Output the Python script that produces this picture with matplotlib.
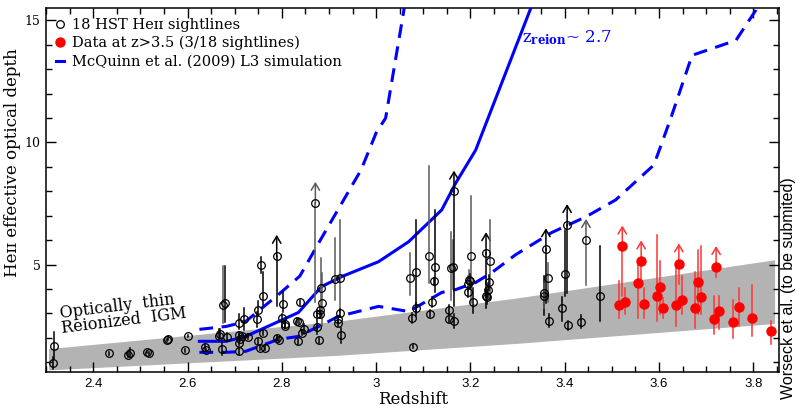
import matplotlib
matplotlib.use("Agg")
import matplotlib.pyplot as plt
from matplotlib.lines import Line2D
from matplotlib.ticker import MultipleLocator

plt.rcParams['mathtext.fontset'] = 'dejavuserif'

# ---------------- data ----------------
# grey "optically thin reionized IGM" band
band_z = [2.305, 2.92, 3.30, 3.845]
band_lo = [0.69, 1.29, 1.78, 2.59]
band_hi = [1.56, 2.69, 3.64, 5.20]

# McQuinn et al. (2009) L3 simulation
sim_med_z = [2.625, 2.682, 2.723, 2.793, 2.835, 2.884, 2.927, 3.005, 3.069, 3.139, 3.169, 3.211, 3.338]
sim_med_t = [1.86, 1.86, 2.06, 2.67, 3.04, 4.10, 4.51, 5.12, 5.94, 7.24, 8.35, 9.69, 16.0]
sim_up_z = [2.625, 2.682, 2.723, 2.793, 2.838, 2.882, 2.925, 2.968, 3.000, 3.020, 3.058, 3.063]
sim_up_t = [2.35, 2.47, 2.67, 3.78, 4.53, 6.02, 7.45, 8.88, 10.4, 11.0, 15.33, 16.0]
sim_lo_z = [2.625, 2.682, 2.723, 2.793, 2.835, 2.878, 2.920, 3.005, 3.069, 3.139, 3.169, 3.211,
            3.245, 3.296, 3.372, 3.445, 3.508, 3.589, 3.625, 3.670, 3.763, 3.805, 3.815]
sim_lo_t = [1.41, 1.41, 1.45, 1.94, 2.06, 2.47, 2.88, 3.29, 3.08, 3.86, 3.98, 4.27,
            4.67, 5.41, 6.31, 6.96, 7.65, 9.08, 11.0, 13.57, 14.18, 15.41, 16.0]

# HST HeII sightlines (open circles)
hst_z = [2.315, 2.317, 2.434, 2.474, 2.478, 2.513, 2.519, 2.556, 2.559, 2.595,
         2.600, 2.636, 2.639, 2.667, 2.669, 2.672, 2.675, 2.680, 2.683, 2.708,
         2.708, 2.712, 2.715, 2.710, 2.710, 2.720, 2.728, 2.747, 2.749, 2.756,
         2.759, 2.750, 2.754, 2.764, 2.759, 2.789, 2.789, 2.793, 2.800, 2.803,
         2.807, 2.806, 2.832, 2.836, 2.839, 2.846, 2.842, 2.835, 2.871, 2.878,
         2.874, 2.874, 2.881, 2.881, 2.885, 2.883, 2.912, 2.924, 2.924, 2.920,
         2.919, 2.926, 3.075, 3.079, 3.084, 3.072, 3.084, 3.113, 3.125, 3.122,
         3.118, 3.115, 3.158, 3.162, 3.165, 3.154, 3.155, 3.164, 3.202, 3.197,
         3.200, 3.195, 3.194, 3.205, 3.233, 3.242, 3.240, 3.237, 3.235, 3.233,
         3.360, 3.364, 3.357, 3.355, 3.367, 3.405, 3.401, 3.394, 3.407, 3.434,
         3.445, 3.475]
hst_t = [0.96, 1.67, 1.37, 1.30, 1.40, 1.42, 1.37, 1.91, 1.97, 1.49,
         2.07, 1.64, 1.50, 2.07, 2.18, 1.55, 3.33, 3.44, 2.04, 2.62,
         2.10, 1.97, 2.07, 1.80, 1.46, 2.78, 2.04, 2.76, 3.16, 5.00,
         3.71, 1.87, 1.60, 1.60, 2.21, 5.37, 2.00, 1.93, 2.82, 3.37,
         2.55, 2.49, 2.69, 2.67, 3.46, 2.35, 2.21, 1.87, 7.54, 1.91,
         2.46, 2.99, 3.16, 2.96, 3.41, 4.05, 4.43, 4.46, 3.03, 2.76,
         2.59, 2.10, 2.82, 1.64, 3.23, 4.46, 4.71, 5.34, 4.89, 4.32,
         3.48, 2.99, 4.87, 4.91, 8.00, 3.14, 2.76, 2.69, 5.34, 4.39,
         4.32, 4.22, 3.89, 3.48, 5.48, 5.14, 4.28, 3.95, 3.68, 3.71,
         5.64, 4.46, 3.82, 3.71, 2.71, 6.63, 4.63, 3.23, 2.51, 2.67,
         6.02, 3.71]
hst_elo = [0.25, 0.55, 0.05, 0.10, 0.20, 0.05, 0.05, 0.05, 0.05, 0.05,
           0.05, 0.10, 0.05, 0.20, 0.20, 0.25, 0.70, 0.80, 0.15, 0.25,
           0.15, 0.10, 0.10, 0.10, 0.15, 0.45, 0.10, 0.30, 0.25, 0.33,
           0.35, 0.10, 0.10, 0.10, 0.10, 2.07, 0.10, 0.10, 0.15, 0.30,
           0.15, 0.10, 0.10, 0.10, 0.10, 0.20, 0.10, 0.10, 4.09, 0.10,
           0.30, 0.15, 0.15, 0.15, 0.94, 1.00, 0.86, 1.42, 0.15, 0.15,
           0.10, 0.30, 0.20, 0.05, 0.20, 0.72, 1.82, 1.08, 1.03, 0.15,
           0.20, 0.15, 1.30, 0.90, 4.70, 0.20, 0.10, 0.30, 1.90, 0.40,
           0.30, 0.30, 0.20, 0.45, 1.80, 1.57, 0.30, 0.30, 0.30, 0.50,
           2.20, 1.00, 0.90, 0.50, 0.25, 2.80, 0.90, 0.55, 0.20, 0.25,
           1.84, 1.02]
hst_ehi = [0.25, 0.57, 0.05, 0.10, 0.20, 0.05, 0.05, 0.05, 0.05, 0.05,
           0.05, 0.10, 0.05, 0.30, 0.20, 0.25, 1.60, 1.50, 0.15, 0.35,
           0.15, 0.10, 0.10, 0.10, 0.15, 0.45, 0.10, 0.30, 0.35, 0.30,
           1.00, 0.10, 0.10, 0.10, 0.10, 0.00, 0.10, 0.10, 0.15, 0.50,
           0.15, 0.10, 0.10, 0.10, 0.10, 0.20, 0.10, 0.10, 0.00, 0.10,
           0.30, 0.15, 0.15, 0.15, 1.26, 1.24, 1.67, 2.38, 0.15, 0.15,
           0.10, 0.30, 0.20, 0.05, 0.20, 1.03, 2.13, 3.70, 2.35, 0.15,
           0.20, 0.15, 1.47, 1.10, 0.00, 0.20, 0.10, 0.30, 2.45, 0.40,
           0.30, 0.30, 0.20, 0.55, 0.00, 1.70, 0.30, 0.30, 0.30, 0.30,
           0.00, 0.60, 0.70, 0.50, 0.25, 0.00, 1.80, 0.45, 0.20, 0.25,
           0.00, 2.04]
hst_lim = [0, 0, 0, 0, 0, 0, 0, 0, 0, 0,
           0, 0, 0, 0, 0, 0, 0, 0, 0, 0,
           0, 0, 0, 0, 0, 0, 0, 0, 0, 0,
           0, 0, 0, 0, 0, 1, 0, 0, 0, 0,
           0, 0, 0, 0, 0, 0, 0, 0, 1, 0,
           0, 0, 0, 0, 0, 0, 0, 0, 0, 0,
           0, 0, 0, 0, 0, 0, 0, 0, 0, 0,
           0, 0, 0, 0, 1, 0, 0, 0, 0, 0,
           0, 0, 0, 0, 1, 0, 0, 0, 0, 0,
           1, 0, 0, 0, 0, 1, 0, 0, 0, 0,
           1, 0]
hst_gray = [0, 0, 0, 0, 0, 0, 0, 0, 0, 0,
            0, 0, 0, 0, 0, 0, 1, 0, 0, 0,
            0, 0, 0, 0, 0, 0, 0, 0, 0, 0,
            0, 0, 0, 0, 0, 0, 0, 0, 0, 0,
            0, 0, 0, 0, 0, 0, 0, 0, 1, 0,
            0, 0, 0, 0, 1, 1, 1, 1, 0, 0,
            0, 0, 0, 0, 0, 1, 0, 1, 0, 0,
            0, 0, 1, 1, 0, 0, 0, 0, 1, 1,
            0, 1, 0, 0, 0, 1, 0, 0, 0, 0,
            0, 1, 0, 1, 0, 0, 0, 0, 0, 0,
            1, 0]

# Data at z>3.5 (red)
red_z = [3.515, 3.522, 3.527, 3.555, 3.562, 3.568, 3.596, 3.602, 3.608, 3.635,
         3.642, 3.648, 3.676, 3.682, 3.688, 3.716, 3.721, 3.728, 3.757, 3.769,
         3.797, 3.837]
red_t = [3.33, 5.75, 3.49, 4.25, 5.14, 3.37, 3.71, 4.07, 3.23, 3.33,
         5.02, 3.57, 3.22, 4.28, 3.67, 2.78, 4.91, 3.09, 2.64, 3.27,
         2.82, 2.28]
red_elo = [0.51, 2.04, 0.53, 1.43, 0.90, 0.55, 1.02, 1.11, 0.40, 0.85,
           0.80, 0.61, 0.80, 1.32, 0.71, 0.64, 0.40, 0.74, 0.63, 0.79,
           0.75, 0.55]
red_ehi = [0.99, 0.00, 0.56, 0.82, 0.00, 0.68, 2.51, 1.07, 0.40, 1.53,
           0.00, 0.95, 1.47, 1.33, 2.08, 0.93, 0.00, 0.62, 0.93, 0.78,
           1.36, 0.41]
red_lim = [0, 1, 0, 0, 1, 0, 0, 0, 0, 0,
           1, 0, 0, 0, 0, 0, 1, 0, 0, 0,
           0, 0]

xticks = [2.4, 2.6, 2.8, 3.0, 3.2, 3.4, 3.6, 3.8]
xticklabels = ['2.4', '2.6', '2.8', '3', '3.2', '3.4', '3.6', '3.8']
yticks = [5, 10, 15]

# ---------------- figure ----------------
SERIF = 'DejaVu Serif'
SANS = 'Liberation Sans'
BLUE = '#0000ff'
GRAYBAR = '#5a5a5a'
REDBAR = '#ff3535'
ARROW_LEN = 0.85

fig = plt.figure(figsize=(7.96, 4.08), dpi=100)
ax = fig.add_axes([0.058, 0.088, 0.921, 0.892])

ax.fill_between(band_z, band_lo, band_hi, color='#b3b3b3', lw=0, zorder=1)

ax.plot(sim_med_z, sim_med_t, color=BLUE, lw=2.2, zorder=3)
ax.plot(sim_up_z, sim_up_t, color=BLUE, lw=2.2, dashes=(4.5, 2.8), zorder=3)
ax.plot(sim_lo_z, sim_lo_t, color=BLUE, lw=2.2, dashes=(4.5, 2.8), zorder=3)

# HST points
for z, t, lo, hi, lim, g in zip(hst_z, hst_t, hst_elo, hst_ehi, hst_lim, hst_gray):
    c = GRAYBAR if g else 'black'
    if lim:
        ax.plot([z, z], [t - lo, t], color=c, lw=1.1, zorder=4)
        ax.annotate('', xy=(z, t + ARROW_LEN), xytext=(z, t - 0.05),
                    arrowprops=dict(arrowstyle='->,head_length=0.5,head_width=0.3',
                                    color=c, lw=1.1, shrinkA=0, shrinkB=0), zorder=4)
    else:
        ax.plot([z, z], [t - lo, t + hi], color=c, lw=1.1, zorder=4)
ax.plot(hst_z, hst_t, 'o', ms=5.5, mfc='none', mec='black', mew=0.9, zorder=5)

# red points
for z, t, lo, hi, lim in zip(red_z, red_t, red_elo, red_ehi, red_lim):
    if lim:
        ax.plot([z, z], [t - lo, t], color=REDBAR, lw=1.1, zorder=4)
        ax.annotate('', xy=(z, t + ARROW_LEN), xytext=(z, t - 0.05),
                    arrowprops=dict(arrowstyle='->,head_length=0.5,head_width=0.3',
                                    color=REDBAR, lw=1.1, shrinkA=0, shrinkB=0), zorder=4)
    else:
        ax.plot([z, z], [t - lo, t + hi], color=REDBAR, lw=1.1, zorder=4)
ax.plot(red_z, red_t, 'o', ms=6.5, mfc='#ff0000', mec='#ff0000', zorder=5)

ax.set_xlim(2.3, 3.855)
ax.set_ylim(0.6, 15.5)

ax.set_xticks(xticks)
ax.set_xticklabels(xticklabels, fontfamily=SANS, fontsize=9.5)
ax.xaxis.set_minor_locator(MultipleLocator(0.05))
ax.set_yticks(yticks)
ax.set_yticklabels([str(v) for v in yticks], fontfamily=SERIF, fontsize=9)
ax.yaxis.set_minor_locator(MultipleLocator(1))
ax.tick_params(which='both', direction='in', top=True, right=True, width=1)
ax.tick_params(which='major', length=7)
ax.tick_params(which='minor', length=4)
ax.tick_params(axis='x', pad=4)
ax.tick_params(axis='y', pad=4)
for s in ax.spines.values():
    s.set_linewidth(1.1)

ax.set_xlabel('Redshift', fontfamily=SERIF, fontsize=12)
ax.xaxis.set_label_coords(0.5, -0.052)
ax.set_ylabel('He\u026a\u026a effective optical depth', fontfamily=SERIF, fontsize=12)
ax.yaxis.set_label_coords(-0.035, 0.575)

ax.text(2.335, 2.05, 'Optically  thin\nReionized  IGM', fontfamily=SERIF, fontsize=11.5,
        rotation=7, rotation_mode='anchor', ha='left', va='bottom', linespacing=0.85, zorder=6)

ax.text(3.309, 14.1, r'z$_{\mathbf{reion}}$~ 2.7', color=BLUE, fontfamily=SERIF, fontsize=12,
        ha='left', va='baseline', zorder=6)

handles = [
    Line2D([], [], ls='none', marker='o', ms=5.5, mfc='none', mec='black', mew=0.9),
    Line2D([], [], ls='none', marker='o', ms=6.5, mfc='#ff0000', mec='#ff0000'),
    Line2D([], [], color=BLUE, lw=2.2),
]
labels = ['18 HST He\u026a\u026a sightlines', 'Data at z>3.5 (3/18 sightlines)',
          'McQuinn et al. (2009) L3 simulation']
leg = ax.legend(handles, labels, loc='upper left', frameon=False,
                prop={'family': SERIF, 'size': 10.5}, handlelength=0.6,
                handletextpad=0.5, borderaxespad=0.45, labelspacing=0.3,
                borderpad=0.2)

fig.text(0.991, 0.022, 'Worseck et al. (to be submited)', rotation=90, ha='center',
         va='bottom', fontfamily=SANS, fontsize=11.5)

fig.savefig('out.png', dpi=100)
